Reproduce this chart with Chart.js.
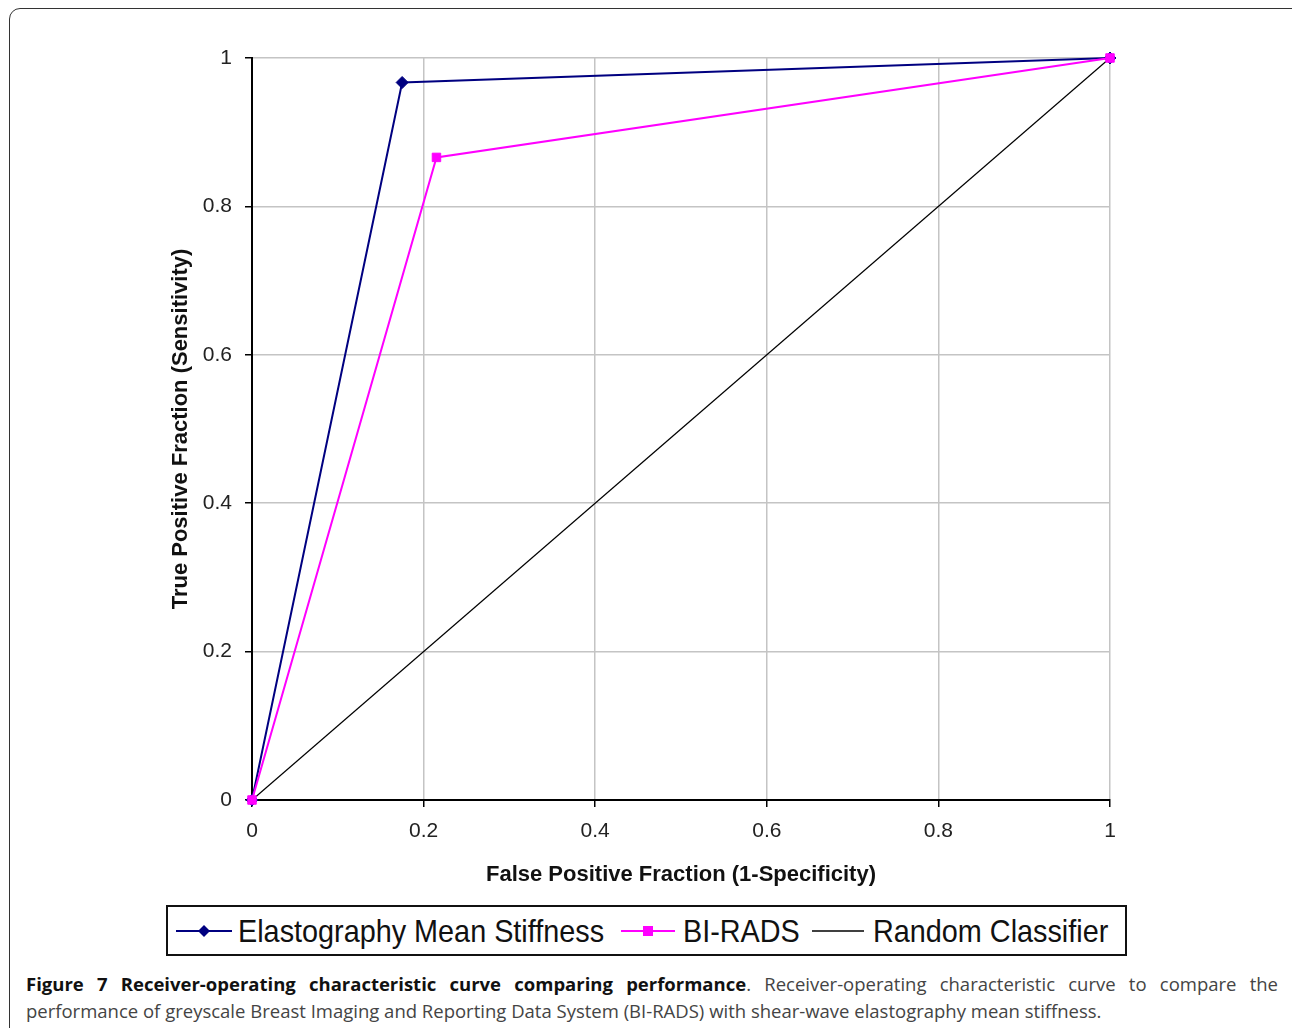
<!DOCTYPE html>
<html>
<head>
<meta charset="utf-8">
<script src="https://cdn.jsdelivr.net/npm/chart.js@4"></script>
<style>
  html, body { margin: 0; padding: 0; background: #fff; }
  body { width: 1292px; height: 1028px; position: relative; overflow: hidden; }
  #frame { position: absolute; left: 9px; top: 8px; width: 1300px; height: 1040px; border: 1px solid #333; border-radius: 11px; box-sizing: border-box; }
  #wrap { position: absolute; left: 0; top: 0; width: 1292px; height: 900px; }
  #legend { position: absolute; left: 166px; top: 905px; width: 961px; height: 51px; border: 2px solid #111; box-sizing: border-box; }
  .sw { position: absolute; top: 0; }
  .lt { position: absolute; top: 4px; font-family: 'Liberation Sans', Arial, sans-serif; font-size: 32px; line-height: 40px; color: #111; white-space: nowrap; transform-origin: 0 50%; transform: scaleX(0.9); }
  #caption { position: absolute; left: 26px; top: 970px; width: 1252px; font-family: 'Open Sans', sans-serif; font-size: 18.5px; line-height: 27px; color: #444; }
  #caption .l1 { text-align: justify; text-align-last: justify; white-space: nowrap; }
  #caption b { color: #111; font-weight: 700; font-size: 18.5px; }
</style>
</head>
<body>
<div id="frame"></div>
<div id="wrap"><canvas id="c"></canvas></div>
<div id="legend"></div>
<div id="caption">
  <div class="l1"><b>Figure 7 Receiver-operating characteristic curve comparing performance</b>. Receiver-operating characteristic curve to compare the</div>
  <div>performance of greyscale Breast Imaging and Reporting Data System (BI-RADS) with shear-wave elastography mean stiffness.</div>
</div>
<script>
// ---- data ----
const seriesNames = ['Elastography Mean Stiffness', 'BI-RADS', 'Random Classifier'];
const elastoFPR = [0, 0.175, 1];
const elastoTPR = [0, 0.967, 1];
const biradsFPR = [0, 0.215, 1];
const biradsTPR = [0, 0.866, 1];
const randomFPR = [0, 1];
const randomTPR = [0, 1];
const tickValues = [0, 0.2, 0.4, 0.6, 0.8, 1];
const xTitle = 'False Positive Fraction (1-Specificity)';
const yTitle = 'True Positive Fraction (Sensitivity)';

const colors = ['#000080', '#ff00ff', '#000000'];
const toPts = (xs, ys) => xs.map((x, i) => ({ x: x, y: ys[i] }));

const tickFont = { family: "'Liberation Sans', Arial, sans-serif", size: 21 };
const titleFont = { family: "'Liberation Sans', Arial, sans-serif", size: 22, weight: 'bold' };

new Chart(document.getElementById('c'), {
  type: 'scatter',
  data: {
    datasets: [
      { label: seriesNames[0], data: toPts(elastoFPR, elastoTPR), showLine: true, clip: false,
        borderColor: colors[0], backgroundColor: colors[0], borderWidth: 2,
        pointStyle: 'rectRot', pointRadius: 6, pointBorderWidth: 1, order: 2 },
      { label: seriesNames[1], data: toPts(biradsFPR, biradsTPR), showLine: true, clip: false,
        borderColor: colors[1], backgroundColor: colors[1], borderWidth: 2,
        pointStyle: 'rect', pointRadius: 6, pointBorderWidth: 1, order: 1 },
      { label: seriesNames[2], data: toPts(randomFPR, randomTPR), showLine: true, clip: false,
        borderColor: colors[2], backgroundColor: colors[2], borderWidth: 1.2,
        pointRadius: 0, order: 3 }
    ]
  },
  options: {
    responsive: true, maintainAspectRatio: false, animation: false,
    layout: { padding: { left: 168, top: 58, right: 182, bottom: 0 } },
    plugins: { legend: { display: false }, tooltip: { enabled: false } },
    scales: {
      x: {
        type: 'linear', min: 0, max: 1,
        afterBuildTicks: s => { s.ticks = tickValues.map(v => ({ value: v })); },
        afterFit: s => { s.height = 100; },
        ticks: { font: tickFont, color: '#222', padding: 12, maxRotation: 0,
                 callback: v => String(+v.toFixed(1)) },
        grid: { color: '#c4c4c4', lineWidth: 1.5, tickColor: '#000', tickLength: 7, tickWidth: 1.5 },
        border: { color: '#000', width: 2 },
        title: { display: true, text: xTitle, font: titleFont, color: '#111', padding: { top: 0, bottom: 12 } }
      },
      y: {
        type: 'linear', min: 0, max: 1,
        afterBuildTicks: s => { s.ticks = tickValues.map(v => ({ value: v })); },
        afterFit: s => { s.width = 84; },
        ticks: { font: tickFont, color: '#222', padding: 13,
                 callback: v => String(+v.toFixed(1)) },
        grid: { color: '#c4c4c4', lineWidth: 1.5, tickColor: '#000', tickLength: 7, tickWidth: 1.5 },
        border: { color: '#000', width: 2 },
        title: { display: true, text: yTitle, font: titleFont, color: '#111', padding: { top: 0, bottom: 0 } }
      }
    }
  }
});

// ---- legend (HTML) ----
const legend = document.getElementById('legend');
const items = [
  { sx: 8, sw: 56, tx: 70, marker: 'diamond' },
  { sx: 453, sw: 54, tx: 515, marker: 'square' },
  { sx: 644, sw: 52, tx: 705, marker: 'none' }
];
items.forEach((it, i) => {
  const svg = document.createElementNS('http://www.w3.org/2000/svg', 'svg');
  svg.setAttribute('class', 'sw');
  svg.setAttribute('width', it.sw);
  svg.setAttribute('height', 47);
  svg.style.left = it.sx + 'px';
  const mid = 24;
  const line = document.createElementNS(svg.namespaceURI, 'line');
  line.setAttribute('x1', 0); line.setAttribute('x2', it.sw);
  line.setAttribute('y1', mid); line.setAttribute('y2', mid);
  line.setAttribute('stroke', colors[i]); line.setAttribute('stroke-width', i === 2 ? 1.5 : 2);
  svg.appendChild(line);
  const c = it.sw / 2;
  if (it.marker === 'diamond') {
    const p = document.createElementNS(svg.namespaceURI, 'polygon');
    p.setAttribute('points', `${c},${mid-6} ${c+6},${mid} ${c},${mid+6} ${c-6},${mid}`);
    p.setAttribute('fill', colors[i]);
    svg.appendChild(p);
  } else if (it.marker === 'square') {
    const r = document.createElementNS(svg.namespaceURI, 'rect');
    r.setAttribute('x', c - 5); r.setAttribute('y', mid - 5);
    r.setAttribute('width', 10); r.setAttribute('height', 10);
    r.setAttribute('fill', colors[i]);
    svg.appendChild(r);
  }
  legend.appendChild(svg);
  const t = document.createElement('span');
  t.className = 'lt';
  t.style.left = it.tx + 'px';
  t.textContent = seriesNames[i];
  legend.appendChild(t);
});
</script>
</body>
</html>
